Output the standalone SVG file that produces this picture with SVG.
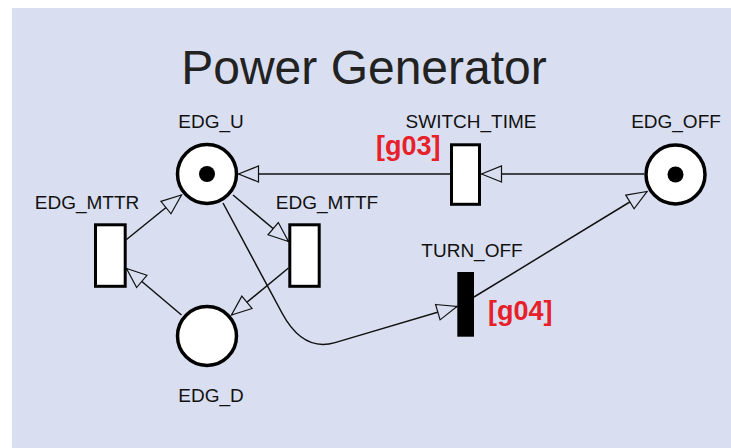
<svg xmlns="http://www.w3.org/2000/svg" width="731" height="448" viewBox="0 0 731 448">
  <style>
    .lbl { font-family: "Liberation Sans", Arial, sans-serif; font-size: 19px; fill: #111; text-anchor: middle; }
    .title { font-family: "Liberation Sans", Arial, sans-serif; font-size: 48px; fill: #222; text-anchor: middle; }
    .tag { font-family: "Liberation Sans", Arial, sans-serif; font-size: 27px; font-weight: bold; fill: #e8202a; }
    .place { fill: #fff; stroke: #000; stroke-width: 3.5; }
    .trans { fill: #fff; stroke: #000; stroke-width: 3; }
    .token { fill: #000; }
    .arc { fill: none; stroke: #111; stroke-width: 1.5; marker-end: url(#arrow); }
  </style>
  <defs>
    <marker id="arrow" markerUnits="userSpaceOnUse" viewBox="-2 -10 24 20" markerWidth="24" markerHeight="20" refX="20" refY="0" orient="auto">
      <path d="M0,-8 L20,0 L0,8 Z" fill="#d9dff0" stroke="#111" stroke-width="1.2"/>
    </marker>
  </defs>
  <rect x="12" y="8" width="719" height="440" fill="#d9dff0"/>
  <text class="title" x="364" y="84">Power Generator</text>

  <g id="connectors">
    <path class="arc" d="M450 174 L238.5 174"/>
    <path class="arc" d="M644 174 L481.5 174"/>
    <path class="arc" d="M474 297 L647 191.5"/>
    <path class="arc" d="M223 203 L282 313 Q303 352 335 342.6 L457 306.5"/>
    <path class="arc" d="M233 195 L288.5 241.5"/>
    <path class="arc" d="M288.5 268 L231.5 315"/>
    <path class="arc" d="M181.5 315 L126.5 268.5"/>
    <path class="arc" d="M126.5 239.5 L181.5 195"/>
  </g>

  <g id="EDG_U">
    <circle class="place" cx="207" cy="174" r="29.5"/>
    <circle class="token" cx="207" cy="174" r="8"/>
    <text class="lbl" x="211" y="127.7">EDG_U</text>
  </g>
  <g id="EDG_OFF">
    <circle class="place" cx="675.5" cy="174.5" r="29.5"/>
    <circle class="token" cx="675.5" cy="174.5" r="8"/>
    <text class="lbl" x="676" y="127.7">EDG_OFF</text>
  </g>
  <g id="EDG_D">
    <circle class="place" cx="207" cy="336" r="29.5"/>
    <text class="lbl" x="211" y="402.3">EDG_D</text>
  </g>
  <g id="EDG_MTTR">
    <rect class="trans" x="95.5" y="224.8" width="29.7" height="61.5"/>
    <text class="lbl" x="87" y="209">EDG_MTTR</text>
  </g>
  <g id="EDG_MTTF">
    <rect class="trans" x="289.8" y="224.8" width="29.4" height="61.5"/>
    <text class="lbl" x="327" y="209">EDG_MTTF</text>
  </g>
  <g id="SWITCH_TIME">
    <rect class="trans" x="451.5" y="144.8" width="28" height="59.5"/>
    <text class="lbl" x="471" y="127.7">SWITCH_TIME</text>
    <text class="tag" x="376" y="155">[g03]</text>
  </g>
  <g id="TURN_OFF">
    <rect x="457.3" y="272" width="16.7" height="64.7" fill="#000"/>
    <text class="lbl" x="472" y="257">TURN_OFF</text>
    <text class="tag" x="488" y="320">[g04]</text>
  </g>
</svg>
